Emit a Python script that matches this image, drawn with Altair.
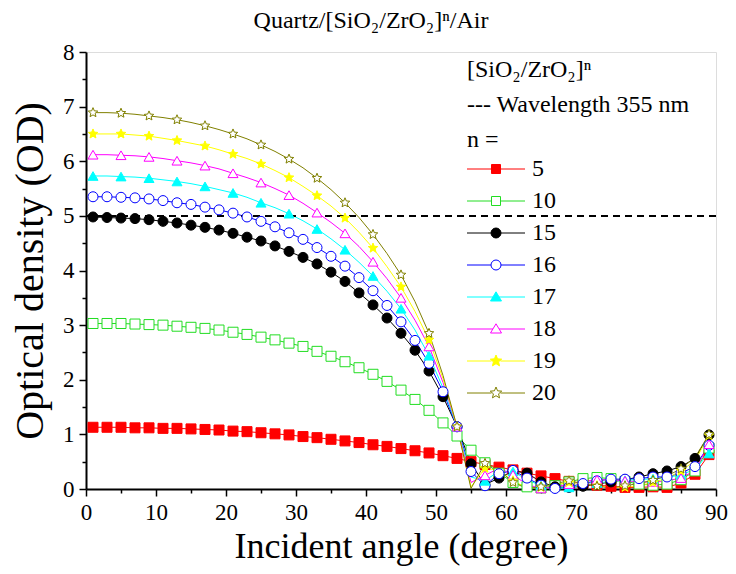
import math
import altair as alt
import pandas as pd

# ---------------- data ----------------
angles = [1, 3, 5, 7, 9, 11, 13, 15, 17, 19, 21, 23, 25, 27, 29, 31, 33, 35, 37, 39,
          41, 43, 45, 47, 49, 51, 53, 55, 57, 59, 61, 63, 65, 67, 69, 71, 73, 75, 77, 79,
          81, 83, 85, 87, 89]

series_n = ["5", "10", "15", "16", "17", "18", "19", "20"]

od_5 = [1.13, 1.13, 1.13, 1.12, 1.12, 1.11, 1.11, 1.10, 1.09, 1.08,
        1.06, 1.05, 1.03, 1.01, 0.99, 0.96, 0.94, 0.91, 0.88, 0.85,
        0.81, 0.78, 0.74, 0.70, 0.66, 0.61, 0.56, 0.50, 0.45, 0.40,
        0.35, 0.29, 0.24, 0.19, 0.14, 0.10, 0.07, 0.05, 0.03, 0.03,
        0.04, 0.03, 0.11, 0.27, 0.63]
od_10 = [3.03, 3.03, 3.03, 3.02, 3.01, 3.00, 2.98, 2.96, 2.94, 2.91,
         2.87, 2.83, 2.78, 2.73, 2.67, 2.61, 2.52, 2.43, 2.33, 2.22,
         2.10, 1.97, 1.81, 1.64, 1.44, 1.21, 0.97, 0.71, 0.48, 0.29,
         0.12, 0.04, 0.02, 0.06, 0.13, 0.19, 0.21, 0.19, 0.14, 0.09,
         0.07, 0.09, 0.17, 0.33, 0.75]
od_15 = [4.98, 4.97, 4.96, 4.95, 4.93, 4.90, 4.87, 4.83, 4.79, 4.74,
         4.68, 4.61, 4.54, 4.45, 4.35, 4.24, 4.12, 3.97, 3.80, 3.59,
         3.37, 3.13, 2.85, 2.54, 2.16, 1.69, 1.14, 0.46, 0.08, 0.20,
         0.33, 0.29, 0.13, 0.04, 0.03, 0.05, 0.09, 0.13, 0.17, 0.22,
         0.28, 0.33, 0.41, 0.56, 0.99]
od_16 = [5.35, 5.35, 5.34, 5.33, 5.31, 5.28, 5.24, 5.21, 5.16, 5.11,
         5.05, 4.98, 4.90, 4.80, 4.69, 4.57, 4.42, 4.26, 4.08, 3.87,
         3.63, 3.36, 3.06, 2.72, 2.30, 1.78, 1.14, 0.32, 0.06, 0.28,
         0.34, 0.20, 0.07, 0.01, 0.04, 0.10, 0.15, 0.18, 0.18, 0.19,
         0.22, 0.22, 0.29, 0.41, 0.80]
od_17 = [5.73, 5.73, 5.72, 5.71, 5.69, 5.66, 5.63, 5.59, 5.54, 5.48,
         5.42, 5.34, 5.24, 5.15, 5.04, 4.91, 4.76, 4.58, 4.38, 4.15,
         3.90, 3.62, 3.30, 2.91, 2.44, 1.85, 1.14, 0.22, 0.15, 0.33,
         0.32, 0.17, 0.06, 0.01, 0.03, 0.07, 0.11, 0.14, 0.16, 0.17,
         0.19, 0.21, 0.26, 0.36, 0.65]
od_18 = [6.12, 6.12, 6.11, 6.10, 6.08, 6.05, 6.01, 5.97, 5.92, 5.86,
         5.78, 5.70, 5.61, 5.50, 5.38, 5.23, 5.06, 4.88, 4.68, 4.44,
         4.16, 3.85, 3.50, 3.09, 2.61, 1.95, 1.14, 0.12, 0.25, 0.38,
         0.26, 0.08, 0.01, 0.04, 0.09, 0.14, 0.17, 0.17, 0.15, 0.13,
         0.13, 0.15, 0.20, 0.34, 0.82]
od_19 = [6.50, 6.50, 6.50, 6.48, 6.46, 6.42, 6.38, 6.33, 6.28, 6.21,
         6.13, 6.05, 5.95, 5.83, 5.70, 5.54, 5.37, 5.18, 4.96, 4.70,
         4.41, 4.07, 3.70, 3.25, 2.73, 2.02, 1.14, 0.04, 0.38, 0.34,
         0.15, 0.02, 0.03, 0.08, 0.12, 0.10, 0.06, 0.03, 0.03, 0.06,
         0.12, 0.20, 0.33, 0.52, 0.98]
od_20 = [6.89, 6.89, 6.88, 6.86, 6.83, 6.80, 6.76, 6.71, 6.65, 6.58,
         6.50, 6.41, 6.30, 6.18, 6.04, 5.88, 5.69, 5.48, 5.24, 4.97,
         4.66, 4.31, 3.92, 3.43, 2.85, 2.08, 1.14, 0.01, 0.47, 0.35,
         0.12, 0.01, 0.04, 0.10, 0.15, 0.10, 0.05, 0.02, 0.06, 0.10,
         0.16, 0.24, 0.37, 0.58, 1.00]

# degrees between drawn markers for each series
marker_every = [2, 2, 2, 2, 4, 4, 4, 4]

threshold = [5]  # dashed line: wavelength 355 nm

x_major = [0, 10, 20, 30, 40, 50, 60, 70, 80, 90]
x_minor = [5, 15, 25, 35, 45, 55, 65, 75, 85]
y_major = [0, 1, 2, 3, 4, 5, 6, 7, 8]
y_minor = [0.5, 1.5, 2.5, 3.5, 4.5, 5.5, 6.5, 7.5]

# ---------------- styles ----------------
FONT = "Liberation Serif"
colors = ["#FF0000", "#22DD22", "#000000", "#0000FF", "#00FFFF", "#FF00FF", "#FFFF00", "#808000"]
fills = ["#FF0000", "#FFFFFF", "#000000", "#FFFFFF", "#00FFFF", "#FFFFFF", "#FFFF00", "#FFFFFF"]


def star_path(R, inner=0.45):
    pts = []
    for k in range(10):
        ang = math.radians(-90 + 36 * k)
        rr = R if k % 2 == 0 else R * inner
        pts.append((rr * math.cos(ang), rr * math.sin(ang)))
    return "M" + "L".join(f"{px:.4f},{py:.4f}" for px, py in pts) + "Z"


STAR = star_path(1.0)
point_shapes = ["square", "square", "circle", "circle", "triangle-up", "triangle-up", STAR, STAR]
point_sizes = [100, 100, 110, 110, 110, 110, 110, 110]

# legend symbols: short line with the marker (1 unit = 10 px with symbolSize 400)
L = 2.9
a = 0.45
sq = f"M-{L},0H-{a}M{a},0H{L}M-{a},-{a}H{a}V{a}H-{a}Z"
r = 0.5
ci = f"M-{L},0H-{r}M{r},0H{L}M{r},0A{r},{r},0,1,1,-{r},0A{r},{r},0,1,1,{r},0Z"
tri = f"M-{L},0H-0.3M0.3,0H{L}M0,-0.52L0.55,0.4L-0.55,0.4Z"
st = f"M-{L},0H-0.45M0.45,0H{L}" + star_path(0.6)
legend_shapes = [sq, sq, ci, ci, tri, tri, st, st]

# ---------------- table ----------------
all_series = [od_5, od_10, od_15, od_16, od_17, od_18, od_19, od_20]
rows = []
for n, vals, step in zip(series_n, all_series, marker_every):
    for ang, v in zip(angles, vals):
        rows.append({"n": n, "angle": ang, "od": v, "marker": (ang - 1) % step == 0})
df = pd.DataFrame(rows)
df_markers = df[df["marker"]]
df_thr = pd.DataFrame({"od": threshold})

x_scale = alt.Scale(domain=[0, 90], nice=False, zero=False)
y_scale = alt.Scale(domain=[0, 8], nice=False)

common_axis = dict(grid=False, domainColor="black", domainWidth=2, tickColor="black", tickWidth=1.5)

x_axis = alt.Axis(
    values=x_major, format="d", orient="bottom", tickSize=7,
    labelFlush=False, labelOverlap=False,
    labelFontSize=23, labelPadding=5, labelFont=FONT, labelColor="black",
    title="Incident angle (degree)", titleFontSize=36, titleFont=FONT,
    titleFontWeight="normal", titleColor="black", titlePadding=5,
    **common_axis,
)
y_axis = alt.Axis(
    values=y_major, format="d", orient="left", tickSize=7,
    labelFlush=False, labelOverlap=False,
    labelFontSize=23, labelPadding=5, labelFont=FONT, labelColor="black",
    title="Optical density (OD)", titleFontSize=40, titleFont=FONT,
    titleFontWeight="normal", titleColor="black", titlePadding=12,
    **common_axis,
)
x_axis_minor = alt.Axis(values=x_minor, orient="bottom", tickSize=4, labels=False,
                        domain=False, title=None, grid=False, tickColor="black", tickWidth=1.5)
y_axis_minor = alt.Axis(values=y_minor, orient="left", tickSize=4, labels=False,
                        domain=False, title=None, grid=False, tickColor="black", tickWidth=1.5)

lines = alt.Chart(df).mark_line(strokeWidth=1, clip=True).encode(
    x=alt.X("angle:Q", scale=x_scale, axis=x_axis),
    y=alt.Y("od:Q", scale=y_scale, axis=y_axis),
    color=alt.Color("n:N", scale=alt.Scale(domain=series_n, range=colors), legend=None),
)

minor = alt.Chart(df_thr).mark_point(opacity=0).encode(
    x=alt.X("od:Q", scale=x_scale, axis=x_axis_minor),
    y=alt.Y("od:Q", scale=y_scale, axis=y_axis_minor),
)

points = alt.Chart(df_markers).mark_point(strokeWidth=1, opacity=1, filled=False).encode(
    x=alt.X("angle:Q", scale=x_scale, axis=None),
    y=alt.Y("od:Q", scale=y_scale, axis=None),
    shape=alt.Shape("n:N", scale=alt.Scale(domain=series_n, range=point_shapes), legend=None),
    stroke=alt.Stroke("n:N", scale=alt.Scale(domain=series_n, range=colors), legend=None),
    fill=alt.Fill("n:N", scale=alt.Scale(domain=series_n, range=fills), legend=None),
    size=alt.Size("n:N", scale=alt.Scale(domain=series_n, range=point_sizes), legend=None),
    order=alt.Order("angle:Q"),
)

legend_def = alt.Legend(
    title=["[SiO₂/ZrO₂]ⁿ", "--- Wavelength 355 nm", "n ="],
    orient="none", legendX=381, legendY=6,
    titleFont=FONT, titleFontSize=24, titleFontWeight="normal", titleColor="black",
    titleLineHeight=35, titleAlign="left", titleAnchor="start", titlePadding=5, titleLimit=400,
    labelFont=FONT, labelFontSize=24, labelColor="black", labelOffset=24, labelLimit=200,
    symbolSize=400, symbolOffset=17, symbolStrokeWidth=1, symbolOpacity=1, rowPadding=8,
    padding=0,
)

legend_layer = alt.Chart(df_markers).mark_point(opacity=0, strokeWidth=1).encode(
    x=alt.X("angle:Q", scale=x_scale, axis=None),
    y=alt.Y("od:Q", scale=y_scale, axis=None),
    shape=alt.Shape("n:N", scale=alt.Scale(domain=series_n, range=legend_shapes), legend=legend_def),
    stroke=alt.Stroke("n:N", scale=alt.Scale(domain=series_n, range=colors), legend=legend_def),
    fill=alt.Fill("n:N", scale=alt.Scale(domain=series_n, range=fills), legend=legend_def),
)

rule = alt.Chart(df_thr).mark_rule(color="black", strokeWidth=2, strokeDash=[7, 5]).encode(
    y=alt.Y("od:Q", scale=y_scale, axis=None),
)

chart = alt.layer(minor, lines, rule, points, legend_layer).resolve_scale(
    shape="independent", fill="independent", stroke="independent"
).resolve_axis(x="independent", y="independent").properties(
    width=630, height=437,
    padding={"left": 78, "top": 44, "right": 12, "bottom": 77},
    autosize=alt.AutoSizeParams(type="none"),
    title=alt.TitleParams(
        text="Quartz/[SiO₂/ZrO₂]ⁿ/Air", font=FONT, fontSize=24, fontWeight="normal",
        color="black", anchor="middle", dx=-30, offset=8,
    ),
).configure_view(stroke="#BBBBBB", strokeWidth=1).configure(background="white")

chart.save("out.html", embed_options={"renderer": "svg", "actions": False})
